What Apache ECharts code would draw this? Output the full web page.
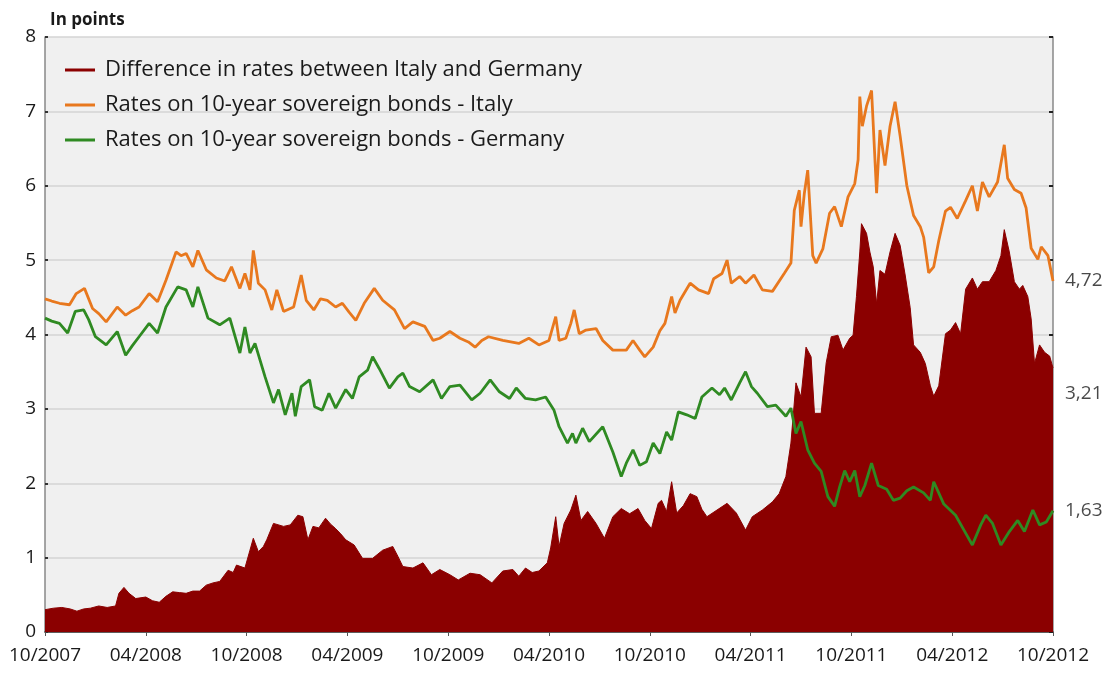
<!DOCTYPE html>
<html>
<head>
<meta charset="utf-8">
<script src="https://cdn.jsdelivr.net/npm/echarts@6/dist/echarts.min.js"></script>
<style>
html,body{margin:0;padding:0;background:#fff;}
#chart{width:1109px;height:675px;}
</style>
</head>
<body>
<div id="chart"></div>
<script>
// x values: months since 10/2007
var xTickLabels = ['10/2007','04/2008','10/2008','04/2009','10/2009','04/2010','10/2010','04/2011','10/2011','04/2012','10/2012'];
var seriesNames = ['Difference in rates between Italy and Germany','Rates on 10-year sovereign bonds - Italy','Rates on 10-year sovereign bonds - Germany'];
var endValues = [4.72, 3.21, 1.63];
var endTexts = ['4,72', '3,21', '1,63'];

var spreadPts = [
[0,0.30],[0.5,0.32],[1.0,0.33],[1.5,0.31],[1.9,0.28],[2.3,0.31],[2.7,0.32],[3.2,0.35],[3.7,0.33],[4.2,0.35],
[4.4,0.52],[4.7,0.60],[5.0,0.52],[5.4,0.45],[6.0,0.47],[6.4,0.42],[6.8,0.40],[7.2,0.48],[7.6,0.54],[8.0,0.53],
[8.4,0.52],[8.8,0.55],[9.2,0.55],[9.6,0.63],[10.0,0.66],[10.4,0.68],[10.9,0.83],[11.2,0.80],[11.4,0.90],[11.9,0.86],
[12.2,1.10],[12.4,1.26],[12.7,1.08],[13.0,1.15],[13.2,1.24],[13.6,1.46],[14.2,1.42],[14.6,1.44],[15.05,1.57],[15.35,1.55],
[15.65,1.24],[15.95,1.42],[16.3,1.40],[16.7,1.53],[17.0,1.45],[17.3,1.39],[17.6,1.32],[17.9,1.24],[18.4,1.17],[18.9,0.99],
[19.5,0.99],[20.1,1.10],[20.7,1.15],[21.0,1.02],[21.3,0.88],[21.9,0.86],[22.5,0.93],[23.0,0.77],[23.5,0.84],[24.1,0.77],
[24.6,0.70],[25.3,0.79],[25.9,0.77],[26.6,0.66],[27.25,0.82],[27.85,0.84],[28.2,0.75],[28.6,0.86],[29.0,0.80],[29.4,0.82],
[29.9,0.93],[30.1,1.13],[30.4,1.55],[30.6,1.15],[30.9,1.46],[31.3,1.64],[31.6,1.84],[31.9,1.50],[32.3,1.62],[32.8,1.46],
[33.3,1.26],[33.8,1.55],[34.3,1.66],[34.8,1.59],[35.3,1.66],[35.7,1.50],[36.1,1.39],[36.5,1.73],[36.7,1.77],[37.0,1.62],
[37.3,2.02],[37.6,1.60],[38.0,1.70],[38.4,1.86],[38.8,1.82],[39.1,1.65],[39.4,1.55],[40.0,1.64],[40.6,1.73],[41.15,1.60],
[41.7,1.37],[42.1,1.55],[42.7,1.64],[43.3,1.75],[43.7,1.86],[44.1,2.09],[44.4,2.54],[44.7,3.35],[45.0,3.16],[45.3,3.83],
[45.6,3.70],[45.8,2.94],[46.2,2.94],[46.5,3.62],[46.8,3.97],[47.2,3.99],[47.5,3.79],[47.9,3.95],[48.1,3.99],[48.3,4.51],
[48.5,5.11],[48.6,5.49],[48.9,5.36],[49.1,5.11],[49.3,4.91],[49.5,4.41],[49.7,4.86],[50.0,4.81],[50.3,5.11],[50.6,5.36],
[50.9,5.20],[51.2,4.80],[51.5,4.36],[51.7,3.86],[52.1,3.76],[52.4,3.61],[52.7,3.31],[52.9,3.17],[53.2,3.31],[53.6,4.01],
[53.9,4.06],[54.2,4.16],[54.5,4.01],[54.8,4.61],[55.2,4.76],[55.5,4.61],[55.8,4.71],[56.2,4.71],[56.6,4.86],[56.9,5.06],
[57.1,5.41],[57.4,5.11],[57.7,4.71],[58.0,4.61],[58.2,4.66],[58.5,4.51],[58.7,4.21],[58.9,3.61],[59.2,3.86],[59.5,3.76],
[59.8,3.71],[60.0,3.55]
];

var italyPts = [
[0,4.48],[0.4,4.45],[0.86,4.42],[1.46,4.40],[1.86,4.55],[2.35,4.62],[2.83,4.35],[3.2,4.28],[3.64,4.17],[4.3,4.37],
[4.8,4.26],[5.2,4.32],[5.6,4.37],[6.2,4.55],[6.7,4.44],[7.2,4.73],[7.8,5.11],[8.1,5.06],[8.4,5.09],[8.8,4.91],
[9.1,5.13],[9.6,4.87],[10.2,4.76],[10.7,4.72],[11.1,4.91],[11.6,4.62],[11.9,4.82],[12.2,4.60],[12.4,5.13],[12.7,4.69],
[13.1,4.60],[13.5,4.33],[13.8,4.60],[14.2,4.31],[14.8,4.37],[15.25,4.80],[15.55,4.46],[16.0,4.33],[16.4,4.48],[16.8,4.46],
[17.3,4.37],[17.7,4.42],[18.1,4.30],[18.5,4.19],[19.0,4.42],[19.6,4.62],[20.1,4.46],[20.8,4.33],[21.4,4.08],[21.9,4.17],
[22.6,4.11],[23.1,3.92],[23.5,3.95],[24.1,4.04],[24.7,3.95],[25.2,3.90],[25.6,3.83],[26.0,3.92],[26.4,3.97],[27.25,3.92],
[28.2,3.88],[28.8,3.95],[29.4,3.86],[30.0,3.92],[30.4,4.24],[30.6,3.92],[31.0,3.95],[31.3,4.15],[31.5,4.33],[31.8,4.01],
[32.2,4.06],[32.8,4.08],[33.2,3.92],[33.8,3.79],[34.6,3.79],[35.0,3.92],[35.4,3.79],[35.7,3.70],[36.2,3.83],[36.6,4.05],
[36.9,4.15],[37.3,4.51],[37.5,4.29],[37.8,4.46],[38.4,4.69],[38.9,4.60],[39.5,4.55],[39.8,4.75],[40.3,4.82],[40.6,5.00],
[40.85,4.69],[41.35,4.78],[41.7,4.69],[42.2,4.80],[42.7,4.60],[43.3,4.58],[44.0,4.82],[44.4,4.96],[44.6,5.67],[44.9,5.94],
[45.0,5.45],[45.2,5.90],[45.4,6.21],[45.7,5.06],[45.9,4.96],[46.3,5.15],[46.7,5.63],[47.0,5.72],[47.4,5.45],[47.8,5.85],
[48.2,6.03],[48.4,6.35],[48.5,7.20],[48.65,6.80],[48.9,7.07],[49.2,7.28],[49.5,5.90],[49.7,6.75],[50.0,6.27],[50.3,6.80],
[50.6,7.13],[50.9,6.67],[51.3,6.00],[51.7,5.60],[52.1,5.45],[52.3,5.31],[52.6,4.83],[52.9,4.91],[53.2,5.26],[53.6,5.66],
[53.9,5.71],[54.3,5.56],[54.8,5.80],[55.2,6.00],[55.5,5.66],[55.8,6.05],[56.2,5.85],[56.7,6.05],[57.1,6.55],[57.3,6.10],
[57.7,5.95],[58.1,5.90],[58.4,5.70],[58.7,5.16],[59.1,5.01],[59.3,5.18],[59.7,5.06],[60.0,4.72]
];

var germanyPts = [
[0,4.22],[0.4,4.18],[0.86,4.15],[1.35,4.02],[1.8,4.31],[2.3,4.33],[2.6,4.20],[3.0,3.97],[3.64,3.86],[4.3,4.04],
[4.8,3.72],[5.2,3.85],[5.6,3.97],[6.2,4.15],[6.7,4.02],[7.2,4.37],[7.9,4.64],[8.4,4.60],[8.8,4.37],[9.1,4.64],
[9.7,4.22],[10.4,4.13],[11.0,4.22],[11.6,3.75],[11.9,4.10],[12.2,3.75],[12.5,3.88],[13.1,3.43],[13.6,3.08],[13.9,3.26],
[14.3,2.92],[14.7,3.21],[14.9,2.90],[15.25,3.30],[15.75,3.39],[16.05,3.03],[16.5,2.98],[16.9,3.21],[17.3,3.01],[17.9,3.26],
[18.3,3.14],[18.7,3.43],[19.2,3.52],[19.5,3.70],[19.9,3.54],[20.5,3.28],[21.0,3.43],[21.3,3.48],[21.7,3.30],[22.3,3.23],
[23.1,3.39],[23.6,3.14],[24.1,3.30],[24.7,3.32],[25.4,3.12],[25.9,3.21],[26.5,3.39],[27.05,3.23],[27.65,3.14],[28.05,3.28],
[28.6,3.14],[29.2,3.12],[29.8,3.16],[30.3,2.98],[30.6,2.76],[31.1,2.54],[31.4,2.67],[31.6,2.54],[32.0,2.74],[32.4,2.56],
[33.2,2.76],[33.8,2.42],[34.3,2.09],[34.6,2.27],[35.0,2.45],[35.4,2.24],[35.8,2.29],[36.2,2.54],[36.6,2.40],[37.0,2.69],
[37.3,2.58],[37.7,2.96],[38.2,2.92],[38.7,2.87],[39.1,3.16],[39.7,3.28],[40.15,3.19],[40.45,3.28],[40.85,3.12],[41.35,3.35],
[41.7,3.50],[42.05,3.30],[42.4,3.21],[43.0,3.03],[43.5,3.05],[44.1,2.90],[44.4,3.01],[44.7,2.67],[45.0,2.83],[45.4,2.45],
[45.8,2.27],[46.2,2.16],[46.6,1.82],[47.0,1.69],[47.3,1.95],[47.6,2.17],[47.9,2.02],[48.2,2.17],[48.5,1.82],[48.8,1.97],
[49.2,2.27],[49.6,1.97],[50.1,1.92],[50.5,1.77],[50.9,1.80],[51.3,1.90],[51.7,1.95],[52.3,1.87],[52.7,1.77],[52.9,2.02],
[53.5,1.72],[54.2,1.57],[54.7,1.37],[55.2,1.17],[55.7,1.44],[56.0,1.57],[56.4,1.46],[56.9,1.17],[57.4,1.35],[57.9,1.50],
[58.3,1.35],[58.8,1.64],[59.2,1.44],[59.6,1.48],[60.0,1.63]
];

var colors = ['#8b0000', '#e8781e', '#2f8a22'];
var labelFont = 'Open Sans';

var chart = echarts.init(document.getElementById('chart'), null, {renderer: 'canvas'});
var option = {
  animation: false,
  backgroundColor: '#ffffff',
  title: {
    text: 'In points', left: 45, top: 7,
    textStyle: {fontFamily: labelFont, fontSize: 17, fontWeight: 'bold', color: '#1a1a1a'}
  },
  legend: {
    orient: 'vertical', left: 60, top: 54, itemGap: 13,
    icon: 'rect', itemWidth: 30, itemHeight: 3,
    textStyle: {fontFamily: labelFont, fontSize: 22, color: '#1a1a1a', padding: [0,0,0,5]},
    data: seriesNames
  },
  grid: {left: 45, right: 56, top: 37, bottom: 43, show: true, backgroundColor: '#f0f0f0', borderWidth: 0},
  xAxis: {
    type: 'value', min: 0, max: 60, interval: 6,
    axisLine: {show: true, lineStyle: {color: '#333', width: 1.5}},
    axisTick: {show: true, length: 4, lineStyle: {color: '#555'}},
    splitLine: {show: false},
    axisLabel: {
      show: true, showMinLabel: true, showMaxLabel: true, margin: 14,
      fontFamily: labelFont, fontSize: 19, color: '#1a1a1a',
      formatter: function (v) { return xTickLabels[Math.round(v / 6)] || ''; }
    }
  },
  yAxis: [{
    type: 'value', min: 0, max: 8, interval: 1, position: 'left',
    axisLine: {show: true, lineStyle: {color: '#888', width: 1.5}},
    axisTick: {show: true, inside: true, length: 3, lineStyle: {color: '#333', width: 2}},
    splitLine: {show: true, lineStyle: {color: '#d4d4d4', width: 1.5}},
    axisLabel: {fontFamily: labelFont, fontSize: 19, color: '#1a1a1a', margin: 9}
  }, {
    type: 'value', min: 0, max: 8, interval: 1, position: 'right',
    axisLine: {show: true, lineStyle: {color: '#888', width: 1.5}},
    axisTick: {show: true, inside: true, length: 4, lineStyle: {color: '#222', width: 2}},
    splitLine: {show: false},
    axisLabel: {show: false}
  }],
  series: [{
    name: seriesNames[0], type: 'line', data: spreadPts, showSymbol: false, symbol: 'none',
    lineStyle: {width: 1, color: colors[0]}, itemStyle: {color: colors[0]},
    areaStyle: {color: colors[0], opacity: 1}, z: 1
  }, {
    name: seriesNames[1], type: 'line', data: italyPts, showSymbol: false, symbol: 'none',
    lineStyle: {width: 2.8, color: colors[1]}, itemStyle: {color: colors[1]}, z: 3
  }, {
    name: seriesNames[2], type: 'line', data: germanyPts, showSymbol: false, symbol: 'none',
    lineStyle: {width: 2.8, color: colors[2]}, itemStyle: {color: colors[2]}, z: 3
  }, {
    name: 'endLabels', type: 'scatter', symbolSize: 0, silent: true, clip: false, z: 5,
    data: endValues.map(function (v) { return [60, v]; }),
    label: {
      show: true, position: 'right', distance: 12,
      fontFamily: labelFont, fontSize: 19, color: '#1a1a1a',
      formatter: function (p) { return endTexts[p.dataIndex]; }
    }
  }]
};
chart.setOption(option);
</script>
</body>
</html>
